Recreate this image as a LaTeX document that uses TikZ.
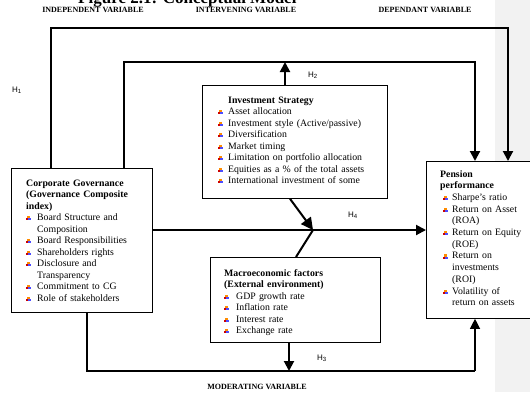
\documentclass[tikz,border=0pt]{standalone}
\usepackage{fontspec}
\setmainfont{Liberation Serif}
\newfontfamily\hfont{Liberation Sans}
\usetikzlibrary{arrows.meta}
% small four colour bullet of the lists
\newcommand{\pbul}[1][11pt]{\makebox[#1][l]{\raisebox{0.2pt}{%
  \rlap{\raisebox{2.1pt}{\hspace{1.1pt}\textcolor{orange!90!yellow}{\rule{2.2pt}{2.2pt}}}}%
  \textcolor{red!80!black}{\rule{2.2pt}{2.1pt}}\textcolor{blue!70}{\rule{2.2pt}{2.1pt}}}}}

\begin{document}
\begin{tikzpicture}[x=1pt,y=-1pt,
    box/.style={draw,fill=white,line width=.8pt,anchor=north west,inner sep=0pt},
    txt/.style={anchor=base west,inner sep=0pt,align=left,font=\fontsize{9.8}{11.5}\selectfont},
    head/.style={inner sep=0pt,font=\fontsize{8}{9}\selectfont\bfseries},
    hlab/.style={inner sep=0pt,font=\hfont\fontsize{8}{9}\selectfont},
    heavy/.style={line width=2pt},
    tip/.style={-{Triangle[length=10pt,width=10pt]}}]
    \useasboundingbox (0,0) rectangle (530,392);
    \fill[gray!10] (495,0) rectangle (530,392);

    % titles
    \node[anchor=base west,inner sep=0pt,font=\fontsize{17}{20}\selectfont\bfseries] (title) at (78,3.5) {Figure 2.1: Conceptual Model};
    \node[head] (indep) at (93,10) {INDEPENDENT VARIABLE};
    \node[head] (inter) at (246,10) {INTERVENING VARIABLE};
    \node[head] (depen) at (425,10) {DEPENDANT VARIABLE};
    \node[head] (moder) at (257,387) {MODERATING VARIABLE};

    % boxes
    \node[box,minimum width=141pt,minimum height=144pt] (cg) at (11,168) {};
    \node[box,minimum width=185pt,minimum height=113pt] (inv) at (202,85) {};
    \node[box,minimum width=170pt,minimum height=85pt] (macro) at (210,257) {};
    \node[box,minimum width=106pt,minimum height=157pt] (pens) at (426,161) {};

    \node[txt,text width=124pt] (cgtxt) at (26,186) {\textbf{Corporate Governance}\\
        \textbf{(Governance Composite}\\ \textbf{index)}\\
        \pbul Board Structure and\\ \hspace*{11pt}Composition\\
        \pbul Board Responsibilities\\ \pbul Shareholders rights\\
        \pbul Disclosure and\\ \hspace*{11pt}Transparency\\
        \pbul Commitment to CG\\ \pbul Role of stakeholders};
    \node[txt,text width=168pt] (invtxt) at (218,103) {\hspace*{10pt}\textbf{Investment Strategy}\\
        \pbul[10pt]Asset allocation\\ \pbul[10pt]Investment style (Active/passive)\\
        \pbul[10pt]Diversification\\ \pbul[10pt]Market timing\\
        \pbul[10pt]Limitation on portfolio allocation\\
        \pbul[10pt]Equities as a \% of the total assets\\
        \pbul[10pt]International investment of some};
    \node[txt,text width=150pt] (mactxt) at (224,276) {\textbf{Macroeconomic factors}\\
        \textbf{(External environment)}\\ \pbul[12pt]GDP growth rate\\
        \pbul[12pt]Inflation rate\\ \pbul[12pt]Interest rate\\ \pbul[12pt]Exchange rate};
    \node[txt,text width=88pt,font=\fontsize{9.8}{11.7}\selectfont] (penstxt) at (440,177) {\textbf{Pension}\\ \textbf{performance}\\
        \hspace*{3pt}\pbul[9pt]Sharpe's ratio\\ \hspace*{3pt}\pbul[9pt]Return on Asset\\ \hspace*{12pt}(ROA)\\
        \hspace*{3pt}\pbul[9pt]Return on Equity\\ \hspace*{12pt}(ROE)\\
        \hspace*{3pt}\pbul[9pt]Return on\\ \hspace*{12pt}investments\\ \hspace*{12pt}(ROI)\\
        \hspace*{3pt}\pbul[9pt]Volatility of\\ \hspace*{12pt}return on assets};

    % corner points of the connectors
    \coordinate (t1) at (51,28);
    \coordinate (t2) at (508,28);
    \coordinate (t3) at (124,62);
    \coordinate (t4) at (475,62);
    \coordinate (t5) at (285,62);
    \coordinate (mid) at (313,230);
    \coordinate (d1) at (290,0);
    \coordinate (d2) at (296,0);
    \coordinate (b0) at (87,371);
    \coordinate (b1) at (289,371);
    \coordinate (b2) at (475,371);

    \draw[heavy,tip] (cg.north -| t1) -- (t1) -- (t2) -- (pens.north -| t2);
    \draw[heavy,tip] (cg.north -| t3) -- (t3) -- (t4) -- (pens.north -| t4);
    \draw[heavy,tip] (inv.north -| t5) -- (t5);
    \draw[heavy,tip] (cg.east |- mid) -- (pens.west |- mid);
    \draw[heavy,-{Triangle[length=12pt,width=12pt]}] (inv.south -| d1) -- (mid);
    \draw[heavy] (macro.north -| d2) -- (mid);
    \draw[heavy,tip] (macro.south -| b1) -- (b1);
    \draw[heavy] (cg.south -| b0) -- (b0) -- (b2);
    \draw[line width=1.2pt,tip] (b2) -- (pens.south -| b2);

    \node[hlab] (h1) at (17,90) {H\textsubscript{1}};
    \node[hlab] (h2) at (313,75) {H\textsubscript{2}};
    \node[hlab] (h4) at (353,215) {H\textsubscript{4}};
    \node[hlab] (h3) at (322,358) {H\textsubscript{3}};
\end{tikzpicture}
\end{document}
